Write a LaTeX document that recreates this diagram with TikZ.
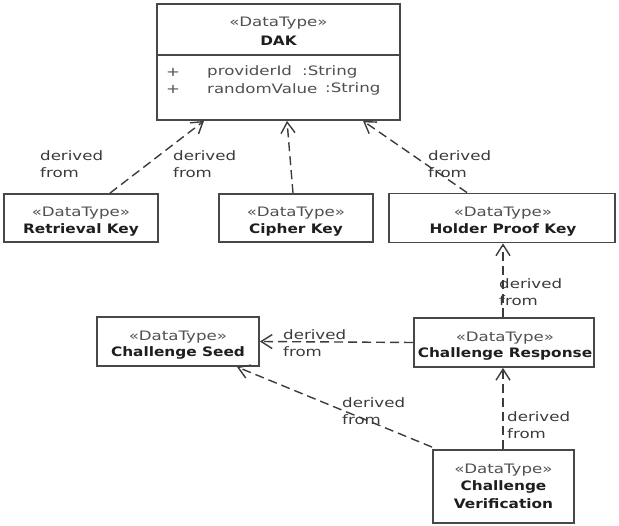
\documentclass[tikz,border=0pt]{standalone}
\usepackage{fontspec}
\usetikzlibrary{arrows.meta,calc}
\setmainfont{DejaVu Sans}
\newfontfamily\regf{DejaVu Sans}[FakeStretch=1.28]
\newfontfamily\boldf{DejaVu Sans}[FakeStretch=1.18]
\definecolor{linec}{HTML}{3C3C3C}
\definecolor{boxc}{HTML}{484848}
\definecolor{stc}{HTML}{505050}
\definecolor{ttc}{HTML}{1E1E1E}
\definecolor{lbc}{HTML}{3A3A3A}
\tikzset{
  box/.style={draw=boxc, line width=1.8pt, fill=white, inner sep=0pt},
  stereo/.style={inner sep=0pt, text=stc, font=\regf\fontsize{13}{16}\selectfont},
  ttl/.style={inner sep=0pt, text=ttc, font=\boldf\bfseries\fontsize{13}{16}\selectfont},
  attr/.style={inner sep=0pt, anchor=west, text=stc, font=\regf\fontsize{13}{16}\selectfont},
  lbl/.style={inner sep=0pt, anchor=west, align=left, text=lbc, font=\regf\fontsize{13}{17}\selectfont},
  dep/.style={draw=linec, line width=1.4pt, dash pattern=on 9pt off 5pt, -{Straight Barb[length=11pt,width=14pt,line width=1.4pt]}}
}
\begin{document}
\begin{tikzpicture}[x=1pt,y=-1pt]
\useasboundingbox (0,0) rectangle (619,526);
% boxes
\node[box, minimum width=243pt, minimum height=116pt] (dak) at (278.5,62) {};
\draw[boxc, line width=1.8pt] (dak.west |- 0,55) coordinate (sepl) -- (dak.east |- 0,55) coordinate (sepr);
\node[stereo] (dak-s) at (278.5,23) {«DataType»};
\node[ttl] (dak-t) at (278.5,41) {DAK};
\node[attr] (p1) at (166,72) {+};
\node[attr] (a1) at (207,72) {providerId};
\node[attr] (t1) at (302,72) {:String};
\node[attr] (p2) at (166,89) {+};
\node[attr] (a2) at (207,89) {randomValue};
\node[attr] (t2) at (325,89) {:String};

\node[box, minimum width=154pt, minimum height=48pt] (rk) at (81,218) {};
\node[stereo] (rk-s) at (81,213) {«DataType»};
\node[ttl] (rk-t) at (81,230) {Retrieval Key};

\node[box, minimum width=154pt, minimum height=48pt] (ck) at (296,218) {};
\node[stereo] (ck-s) at (296,213) {«DataType»};
\node[ttl] (ck-t) at (296,230) {Cipher Key};

\node[box, minimum width=226pt, minimum height=49pt] (hpk) at (502,218) {};
\node[stereo] (hpk-s) at (503,213) {«DataType»};
\node[ttl] (hpk-t) at (503,230) {Holder Proof Key};

\node[box, minimum width=162pt, minimum height=49pt] (cs) at (178,341.5) {};
\node[stereo] (cs-s) at (178,337) {«DataType»};
\node[ttl] (cs-t) at (178,353) {Challenge Seed};

\node[box, minimum width=180pt, minimum height=49pt] (cr) at (504,342.5) {};
\node[stereo] (cr-s) at (505,338) {«DataType»};
\node[ttl] (cr-t) at (505,354) {Challenge Response};

\node[box, minimum width=141pt, minimum height=73pt] (cv) at (503.5,486.5) {};
\node[stereo] (cv-s) at (503.5,470) {«DataType»};
\node[ttl] (cv-t1) at (503.5,487) {Challenge};
\node[ttl] (cv-t2) at (503.5,504) {Verification};

% connectors
\draw[dep] ([xshift=29pt]rk.north) -- ([xshift=-74.5pt]dak.south);
\draw[dep] ([xshift=-3pt]ck.north) -- ([xshift=8.5pt]dak.south);
\draw[dep] ([xshift=-35pt]hpk.north) -- ([xshift=84.5pt]dak.south);
\draw[dep] ([xshift=-1pt]cr.north) -- ([xshift=1pt]hpk.south);
\draw[dep] (cr.west) -- (cs.east);
\draw[dep] ([yshift=2pt]cv.north west) -- ([xshift=59pt]cs.south);
\draw[dep] ([xshift=-0.5pt]cv.north) -- ([xshift=-1pt]cr.south);

% labels
\node[lbl] (l1) at (40,164.5) {derived\\from};
\node[lbl] (l2) at (173,164.5) {derived\\from};
\node[lbl] (l3) at (428,164) {derived\\from};
\node[lbl] (l4) at (499,292.5) {derived\\from};
\node[lbl] (l5) at (283,343) {derived\\from};
\node[lbl] (l6) at (342,411) {derived\\from};
\node[lbl] (l7) at (507,425) {derived\\from};
\end{tikzpicture}
\end{document}
